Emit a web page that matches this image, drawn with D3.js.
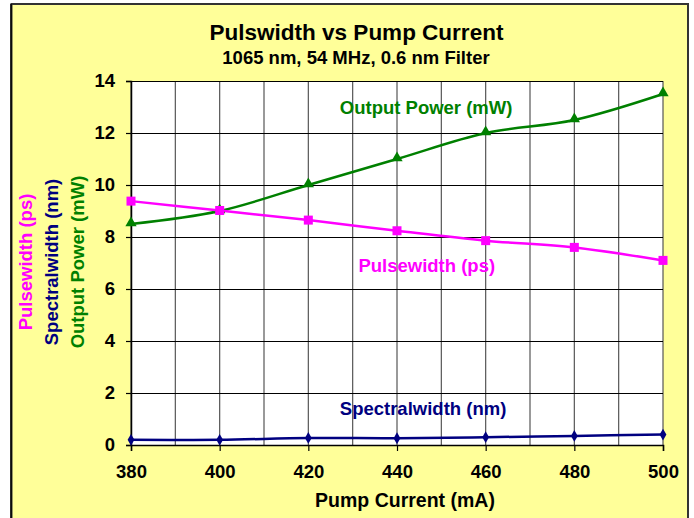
<!DOCTYPE html>
<html>
<head>
<meta charset="utf-8">
<script src="https://cdn.jsdelivr.net/npm/d3@7"></script>
<style>
  html, body { margin: 0; padding: 0; background: #ffffff; }
  svg { display: block; }
  text { font-family: "Liberation Sans", Arial, sans-serif; font-weight: bold; }
</style>
</head>
<body>
<svg id="chart" width="694" height="518"></svg>
<script>
// ---- data ----
const pumpCurrent = [380, 400, 420, 440, 460, 480, 500];
const outputPower = [8.5, 9.0, 10.0, 11.0, 12.0, 12.5, 13.5];
const pulsewidth = [9.38, 9.02, 8.65, 8.24, 7.86, 7.6, 7.1];
const spectralwidth = [0.2, 0.2, 0.27, 0.26, 0.3, 0.35, 0.4];
const xTicks = [380, 400, 420, 440, 460, 480, 500];
const xGrid = [380, 390, 400, 410, 420, 430, 440, 450, 460, 470, 480, 490, 500];
const yTicks = [0, 2, 4, 6, 8, 10, 12, 14];
const titleText = "Pulswidth vs Pump Current";
const subtitleText = "1065 nm, 54 MHz, 0.6 nm Filter";
const xAxisTitle = "Pump Current (mA)";
const yAxisTitles = ["Pulsewidth (ps)", "Spectralwidth (nm)", "Output Power (mW)"];
// series labels: [name, x (mA), y (value)]
const seriesLabels = [
  ["Output Power (mW)", 427.1, 12.73],
  ["Pulsewidth (ps)", 431.3, 6.65],
  ["Spectralwidth (nm)", 427.1, 1.15]
];

const colors = { power: "#008000", pulse: "#FF00FF", spectral: "#000080" };

const svg = d3.select("#chart");
const plot = { left: 131, right: 663, top: 81, bottom: 445 };

// chart background box
svg.append("rect").attr("x", 11.5).attr("y", 4).attr("width", 676.5).attr("height", 530)
  .attr("fill", "#FFFF99").attr("stroke", "#333").attr("stroke-width", 2);
svg.append("line").attr("x1", 11).attr("x2", 11).attr("y1", 4).attr("y2", 518)
  .attr("stroke", "#000").attr("stroke-width", 1.5);

const x = d3.scaleLinear().domain([380, 500]).range([plot.left, plot.right]);
const y = d3.scaleLinear().domain([0, 14]).range([plot.bottom, plot.top]);

// plot area
svg.append("rect").attr("x", plot.left).attr("y", plot.top)
  .attr("width", plot.right - plot.left).attr("height", plot.bottom - plot.top)
  .attr("fill", "#ffffff");

// grid
const g = svg.append("g");
g.selectAll("line.vg").data(xGrid).enter().append("line")
  .attr("x1", d => x(d)).attr("x2", d => x(d))
  .attr("y1", plot.top).attr("y2", plot.bottom)
  .attr("stroke", "#555").attr("stroke-width", 1.2);
g.selectAll("line.hg").data(yTicks).enter().append("line")
  .attr("x1", plot.left).attr("x2", plot.right)
  .attr("y1", d => Math.round(y(d)) + 0.5).attr("y2", d => Math.round(y(d)) + 0.5)
  .attr("stroke", "#000").attr("stroke-width", 1);

// axes
const xAxis = d3.axisBottom(x).tickValues(xTicks).tickSize(6).tickPadding(14).tickFormat(d3.format("d"));
const yAxis = d3.axisLeft(y).tickValues(yTicks).tickSize(5).tickPadding(11).tickFormat(d3.format("d"));
const gx = svg.append("g").attr("transform", `translate(0,${plot.bottom})`).call(xAxis);
const gy = svg.append("g").attr("transform", `translate(${plot.left},0)`).call(yAxis);
[gx, gy].forEach(a => {
  a.select(".domain").attr("stroke", "#000").attr("stroke-width", 1.5);
  a.selectAll(".tick line").attr("stroke", "#000").attr("stroke-width", 1.2);
  a.selectAll(".tick text").attr("fill", "#000").style("font-size", "18.5px")
    .style("font-family", '"Liberation Sans", Arial, sans-serif').style("font-weight", "bold");
});
gx.selectAll(".tick text").attr("dy", "0.71em");

// lines
const curve = d3.curveCardinal.tension(0);
function series(vals, color) {
  const pts = pumpCurrent.map((c, i) => [c, vals[i]]);
  svg.append("path").datum(pts)
    .attr("d", d3.line().x(d => x(d[0])).y(d => y(d[1])).curve(curve))
    .attr("fill", "none").attr("stroke", color).attr("stroke-width", 2.5);
  return pts;
}
const sPts = series(spectralwidth, colors.spectral);
const oPts = series(outputPower, colors.power);
const pPts = series(pulsewidth, colors.pulse);

// markers
const dia = d3.symbol().type(d3.symbolDiamond).size(40);
svg.selectAll("path.dia").data(sPts).enter().append("path")
  .attr("d", dia).attr("transform", d => `translate(${x(d[0])},${y(d[1])})`)
  .attr("fill", colors.spectral);
const tri = d3.symbol().type(d3.symbolTriangle).size(55);
svg.selectAll("path.tri").data(oPts).enter().append("path")
  .attr("d", tri).attr("transform", d => `translate(${x(d[0])},${y(d[1]) - 1})`)
  .attr("fill", colors.power);
svg.selectAll("rect.sq").data(pPts).enter().append("rect")
  .attr("x", d => x(d[0]) - 4.5).attr("y", d => y(d[1]) - 4.5)
  .attr("width", 9).attr("height", 9).attr("fill", colors.pulse);

// series labels
const labelColors = [colors.power, colors.pulse, colors.spectral];
svg.selectAll("text.sl").data(seriesLabels).enter().append("text")
  .attr("x", d => x(d[1])).attr("y", d => y(d[2]))
  .attr("fill", (d, i) => labelColors[i]).style("font-size", "18.5px")
  .text(d => d[0]);

// titles
svg.append("text").attr("x", 356.5).attr("y", 39.5).attr("text-anchor", "middle")
  .style("font-size", "22.5px").attr("fill", "#000").text(titleText);
svg.append("text").attr("x", 356).attr("y", 64).attr("text-anchor", "middle")
  .style("font-size", "18.5px").attr("fill", "#000").text(subtitleText);
svg.append("text").attr("x", 405).attr("y", 507).attr("text-anchor", "middle")
  .style("font-size", "19.5px").attr("fill", "#000").text(xAxisTitle);

// y axis titles (rotated)
const yTitleColors = [colors.pulse, colors.spectral, colors.power];
const yTitleX = [31.7, 57.7, 83.5];
yAxisTitles.forEach((t, i) => {
  svg.append("text")
    .attr("transform", `translate(${yTitleX[i]},262) rotate(-90)`)
    .attr("text-anchor", "middle").attr("fill", yTitleColors[i])
    .style("font-size", "18.5px").text(t);
});
</script>
</body>
</html>
